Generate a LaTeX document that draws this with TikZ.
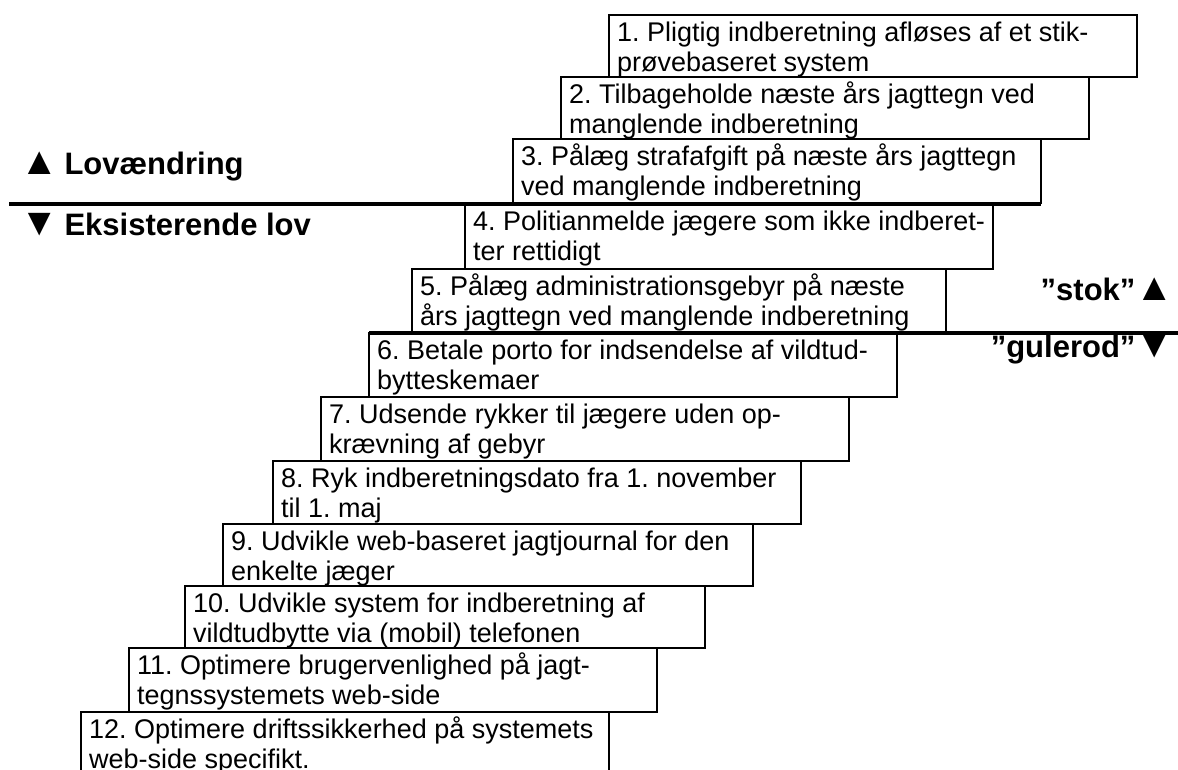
\documentclass[tikz,border=0pt]{standalone}
\usepackage{fontspec}
\setmainfont{Liberation Sans}
\usetikzlibrary{calc}
\frenchspacing
\begin{document}
\begin{tikzpicture}[x=1pt,y=-1pt,
  stepbox/.style={draw=black, line width=1.6pt, minimum width=528pt, anchor=north west, inner sep=0pt, outer sep=0pt},
  steptext/.style={anchor=base west, inner sep=0pt, font=\fontsize{27}{30.5}\selectfont},
  thickline/.style={line width=4.5pt},
  sidelabel/.style={inner sep=0pt, font=\fontsize{31}{36}\selectfont\bfseries}
]
\useasboundingbox (0,0) rectangle (1178,769);
\fill[white] (0,0) rectangle (1178,769);

% boxes (left, top)
\node[stepbox, minimum height=62pt] (b1) at (609,15) {};
\node[stepbox, minimum height=62pt] (b2) at (561,77) {};
\node[stepbox, minimum height=64pt] (b3) at (513,139) {};
\node[stepbox, minimum height=65pt] (b4) at (465,204) {};
\node[stepbox, minimum height=64pt, minimum width=534pt] (b5) at (412,269) {};
\node[stepbox, minimum height=64pt] (b6) at (369,333) {};
\node[stepbox, minimum height=64pt] (b7) at (321,397) {};
\node[stepbox, minimum height=63pt] (b8) at (273,461) {};
\node[stepbox, minimum height=62pt, minimum width=530pt] (b9) at (223,524) {};
\node[stepbox, minimum height=62pt, minimum width=520pt] (b10) at (185,586) {};
\node[stepbox, minimum height=64pt] (b11) at (129,648) {};
\node[stepbox, minimum height=70pt] (b12) at (81,712) {};

% texts
\newcommand{\steplines}[2]{\parbox[t]{560pt}{\raggedright #1\\#2}}
\newcommand{\bigtri}[1]{\scalebox{1.25}{#1}}
\node[steptext] (t1) at ($(b1.north west)+(8,26)$) {\steplines{1. Pligtig indberetning afløses af et stik-}{prøvebaseret system}};
\node[steptext] (t2) at ($(b2.north west)+(8,26)$) {\steplines{2. Tilbageholde næste års jagttegn ved}{manglende indberetning}};
\node[steptext] (t3) at ($(b3.north west)+(8,26)$) {\steplines{3. Pålæg strafafgift på næste års jagttegn}{ved manglende indberetning}};
\node[steptext] (t4) at ($(b4.north west)+(8,26)$) {\steplines{4. Politianmelde jægere som ikke indberet-}{ter rettidigt}};
\node[steptext] (t5) at ($(b5.north west)+(8,26)$) {\steplines{5. Pålæg administrationsgebyr på næste}{års jagttegn ved manglende indberetning}};
\node[steptext] (t6) at ($(b6.north west)+(8,26)$) {\steplines{6. Betale porto for indsendelse af vildtud-}{bytteskemaer}};
\node[steptext] (t7) at ($(b7.north west)+(8,26)$) {\steplines{7. Udsende rykker til jægere uden op-}{krævning af gebyr}};
\node[steptext] (t8) at ($(b8.north west)+(8,26)$) {\steplines{8. Ryk indberetningsdato fra 1. november}{til 1. maj}};
\node[steptext] (t9) at ($(b9.north west)+(8,26)$) {\steplines{9. Udvikle web-baseret jagtjournal for den}{enkelte jæger}};
\node[steptext] (t10) at ($(b10.north west)+(8,26)$) {\steplines{10. Udvikle system for indberetning af}{vildtudbytte via (mobil) telefonen}};
\node[steptext] (t11) at ($(b11.north west)+(8,26)$) {\steplines{11. Optimere brugervenlighed på jagt-}{tegnssystemets web-side}};
\node[steptext] (t12) at ($(b12.north west)+(8,26)$) {\steplines{12. Optimere driftssikkerhed på systemets}{web-side specifikt.}};

% dividing lines
\coordinate (lawstart) at (9,204);
\coordinate (stickend) at (1178,333);
\draw[thickline] (lawstart) -- (lawstart -| b3.south east);
\draw[thickline] (b6.north west) -- (stickend);

% side labels
\node[sidelabel, anchor=base west] (lovup) at (20,174) {\bigtri{▲}\kern6pt Lovændring};
\node[sidelabel, anchor=base west] (lovdown) at (20,235) {\bigtri{▼}\kern6pt Eksisterende lov};
\node[sidelabel, anchor=base east] (stok) at (1174,300) {”stok”\bigtri{▲}};
\node[sidelabel, anchor=base east] (gulerod) at (1174,357) {”gulerod”\bigtri{▼}};
\end{tikzpicture}
\end{document}
